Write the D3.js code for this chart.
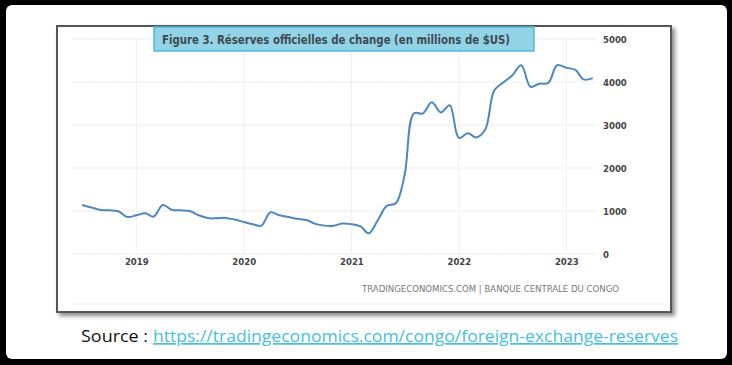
<!DOCTYPE html>
<html>
<head>
<meta charset="utf-8">
<script src="https://cdn.jsdelivr.net/npm/d3@7"></script>
<style>
  body { margin: 0; background: #000; }
  svg { display: block; }
</style>
</head>
<body>
<div id="chart"></div>
<script>
// monthly reserves, millions of $US
var months = [
  "2018-07","2018-08","2018-09","2018-10","2018-11","2018-12",
  "2019-01","2019-02","2019-03","2019-04","2019-05","2019-06",
  "2019-07","2019-08","2019-09","2019-10","2019-11","2019-12",
  "2020-01","2020-02","2020-03","2020-04","2020-05","2020-06",
  "2020-07","2020-08","2020-09","2020-10","2020-11","2020-12",
  "2021-01","2021-02","2021-03","2021-04","2021-05","2021-06",
  "2021-07","2021-08","2021-09","2021-10","2021-11","2021-12",
  "2022-01","2022-02","2022-03","2022-04","2022-05","2022-06",
  "2022-07","2022-08","2022-09","2022-10","2022-11","2022-12",
  "2023-01","2023-02","2023-03","2023-04"
];
var reserves = [
  1140, 1080, 1025, 1015, 995, 860,
  900, 950, 870, 1140, 1030, 1015,
  1000, 900, 835, 830, 840, 800,
  745, 690, 660, 970, 900, 860,
  820, 790, 700, 660, 655, 710,
  695, 640, 480, 790, 1120, 1180,
  1850, 3270, 3270, 3530, 3290, 3460,
  2700, 2810, 2710, 2900, 3800, 3990,
  4150, 4390, 3890, 3960, 3980, 4390,
  4330, 4280, 4060, 4090
];
var yTicks = [0, 1000, 2000, 3000, 4000, 5000];
var xTickYears = [2019, 2020, 2021, 2022, 2023];

var titleText = "Figure 3. Réserves officielles de change (en millions de $US)";
var footerText = "TRADINGECONOMICS.COM | BANQUE CENTRALE DU CONGO";
var sourceLabel = "Source :";
var sourceUrl = "https://tradingeconomics.com/congo/foreign-exchange-reserves";

var svgWidth = 732;
var svgHeight = 365;

var parseMonth = d3.timeParse("%Y-%m");
var data = months.map(function (m, i) {
  return { date: parseMonth(m), value: reserves[i] };
});

var svg = d3.select("#chart")
  .append("svg")
  .attr("width", svgWidth)
  .attr("height", svgHeight);

var defs = svg.append("defs");
var shadow = defs.append("filter").attr("id", "shadow")
  .attr("x", "-5%").attr("y", "-5%").attr("width", "115%").attr("height", "120%");
shadow.append("feDropShadow")
  .attr("dx", 3).attr("dy", 3).attr("stdDeviation", 2)
  .attr("flood-color", "#000").attr("flood-opacity", 0.45);

// white sheet inside the black frame
svg.append("rect")
  .attr("x", 6).attr("y", 5)
  .attr("width", 721).attr("height", 354)
  .attr("rx", 6)
  .attr("fill", "#fff");

// chart box
svg.append("rect")
  .attr("x", 57).attr("y", 26)
  .attr("width", 614).attr("height", 286)
  .attr("fill", "#fff")
  .attr("stroke", "#555")
  .attr("stroke-width", 2)
  .attr("filter", "url(#shadow)");

// scales
var xScale = d3.scaleTime()
  .domain([new Date(2018, 4, 31), new Date(2023, 3, 12)])
  .range([73, 596]);
var yScale = d3.scaleLinear()
  .domain([0, 5000])
  .range([254, 39]);

var grid = svg.append("g");

grid.selectAll(".hgrid")
  .data(yTicks)
  .enter()
  .append("line")
  .attr("x1", 73)
  .attr("x2", 596)
  .attr("y1", function (d) { return yScale(d); })
  .attr("y2", function (d) { return yScale(d); })
  .attr("stroke", "#e6e6e6")
  .attr("stroke-dasharray", "2,1");

grid.selectAll(".vgrid")
  .data(xTickYears)
  .enter()
  .append("line")
  .attr("x1", function (d) { return xScale(new Date(d, 0, 1)); })
  .attr("x2", function (d) { return xScale(new Date(d, 0, 1)); })
  .attr("y1", yScale(5000))
  .attr("y2", yScale(0))
  .attr("stroke", "#efefef");

// light line under the footer
svg.append("line")
  .attr("x1", 73).attr("x2", 664)
  .attr("y1", 304).attr("y2", 304)
  .attr("stroke", "#f0f0f0");

// axes (labels only, tick lines hidden)
var rightAxis = d3.axisRight(yScale)
  .tickValues(yTicks)
  .tickFormat(d3.format("d"))
  .tickSize(0).tickPadding(0);
var yAxisG = svg.append("g")
  .attr("transform", "translate(603,0)")
  .call(rightAxis);

var bottomAxis = d3.axisBottom(xScale)
  .tickValues(xTickYears.map(function (y) { return new Date(y, 0, 1); }))
  .tickFormat(d3.timeFormat("%Y"))
  .tickSize(0).tickPadding(0);
var xAxisG = svg.append("g")
  .attr("transform", "translate(0,258)")
  .call(bottomAxis);

[yAxisG, xAxisG].forEach(function (g) {
  g.select(".domain").remove();
  g.selectAll("text")
    .style("font-family", "'DejaVu Sans Condensed', 'DejaVu Sans', sans-serif")
    .style("font-size", "9.5px")
    .style("font-weight", "bold")
    .attr("fill", "#444");
});

// the series line
var line = d3.line()
  .x(function (d) { return xScale(d.date); })
  .y(function (d) { return yScale(d.value); })
  .curve(d3.curveCatmullRom.alpha(0.5));

svg.append("path")
  .datum(data)
  .attr("fill", "none")
  .attr("stroke", "#4f87bf")
  .attr("stroke-width", 2)
  .attr("stroke-linejoin", "round")
  .attr("d", line);

// title box
svg.append("rect")
  .attr("x", 154).attr("y", 27)
  .attr("width", 380).attr("height", 24)
  .attr("fill", "#92d3e6")
  .attr("stroke", "#4dbad9")
  .attr("stroke-width", 1.5);

svg.append("text")
  .attr("x", 162)
  .attr("y", 43.5)
  .attr("textLength", 348)
  .attr("lengthAdjust", "spacingAndGlyphs")
  .style("font-family", "'DejaVu Sans Condensed', 'DejaVu Sans', sans-serif")
  .style("font-size", "12.5px")
  .style("font-weight", "bold")
  .attr("fill", "#3d4a52")
  .text(titleText);

// footer credit
svg.append("text")
  .attr("x", 362)
  .attr("y", 292)
  .attr("textLength", 257)
  .attr("lengthAdjust", "spacingAndGlyphs")
  .style("font-family", "'DejaVu Sans Condensed', 'DejaVu Sans', sans-serif")
  .style("font-size", "9px")
  .attr("fill", "#777")
  .text(footerText);

// source line under the chart
var src = svg.append("text")
  .attr("y", 342)
  .style("font-family", "'Open Sans', sans-serif")
  .style("font-size", "17px");

src.append("tspan")
  .attr("x", 81)
  .attr("fill", "#111")
  .attr("textLength", 67)
  .attr("lengthAdjust", "spacingAndGlyphs")
  .text(sourceLabel);

src.append("tspan")
  .attr("x", 153)
  .attr("fill", "#45bfe0")
  .attr("text-decoration", "underline")
  .attr("textLength", 525)
  .attr("lengthAdjust", "spacingAndGlyphs")
  .text(sourceUrl);
</script>
</body>
</html>
